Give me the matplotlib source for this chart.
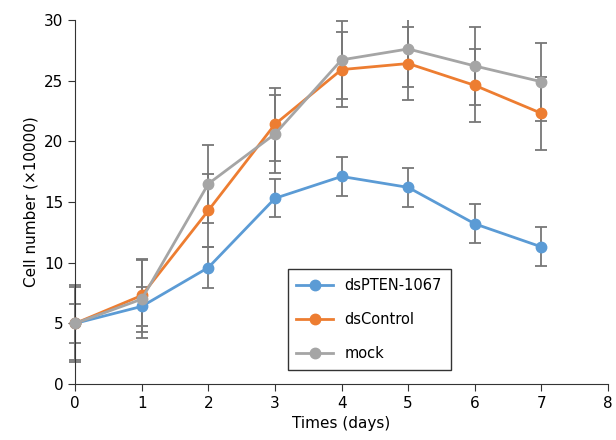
import matplotlib.pyplot as plt
from matplotlib.patches import Rectangle
import numpy as np

# days
days = [0, 1, 2, 3, 4, 5, 6, 7]

# cell number (x10000)
pten = [5.0, 6.4, 9.6, 15.3, 17.1, 16.2, 13.2, 11.3]
pten_err = [1.6, 1.6, 1.65, 1.55, 1.6, 1.6, 1.6, 1.6]
ctrl = [5.0, 7.3, 14.3, 21.4, 25.9, 26.4, 24.6, 22.3]
ctrl_err = [3.0, 3.0, 3.0, 3.0, 3.1, 3.0, 3.0, 3.0]
mock = [5.0, 7.0, 16.5, 20.6, 26.7, 27.6, 26.2, 24.9]
mock_err = [3.2, 3.2, 3.2, 3.2, 3.2, 3.1, 3.2, 3.2]

labels = ['dsPTEN-1067', 'dsControl', 'mock']
colors = ['#5b9bd5', '#ed7d31', '#a5a5a5']

fig = plt.figure(figsize=(6.16, 4.4), dpi=100)
ax = fig.add_axes([0.122, 0.127, 0.865, 0.828])

# clip error bars at the top of the axes but let the day-0 bars spill left
clip = Rectangle((-0.5, -1), 9, 31, transform=ax.transData, visible=False)
ax.add_patch(clip)

series = [(pten, pten_err), (ctrl, ctrl_err), (mock, mock_err)]
for (y, e) in series:
    eb = ax.errorbar(days, y, yerr=e, fmt='none', ecolor='#777777', elinewidth=1.3,
                     capsize=4, capthick=1.3, zorder=1)
    for art in list(eb.lines[1]) + list(eb.lines[2]):
        art.set_clip_path(clip)
for (y, e), lab, c in zip(series, labels, colors):
    ax.plot(days, y, color=c, lw=2.0, marker='o', ms=7.5, label=lab, zorder=3,
            clip_on=False)

ax.set_xlim(0, 8)
ax.set_ylim(0, 30)
ax.set_xticks(range(0, 9))
ax.set_yticks(range(0, 31, 5))
ax.spines['top'].set_visible(False)
ax.spines['right'].set_visible(False)
ax.spines['left'].set_color('#333333')
ax.spines['bottom'].set_color('#333333')
ax.tick_params(direction='out', labelsize=11, length=5, color='#333333')
ax.set_xlabel('Times (days)', fontsize=11)
ax.set_ylabel('Cell number (×10000)', fontsize=11)

leg = ax.legend(loc='upper left', bbox_to_anchor=(0.385, 0.335), fontsize=10.5,
                frameon=True, fancybox=False, edgecolor='black',
                labelspacing=1.3, handlelength=2.5, borderpad=0.6)
leg.get_frame().set_linewidth(1.0)

plt.savefig('out.png', dpi=100)
